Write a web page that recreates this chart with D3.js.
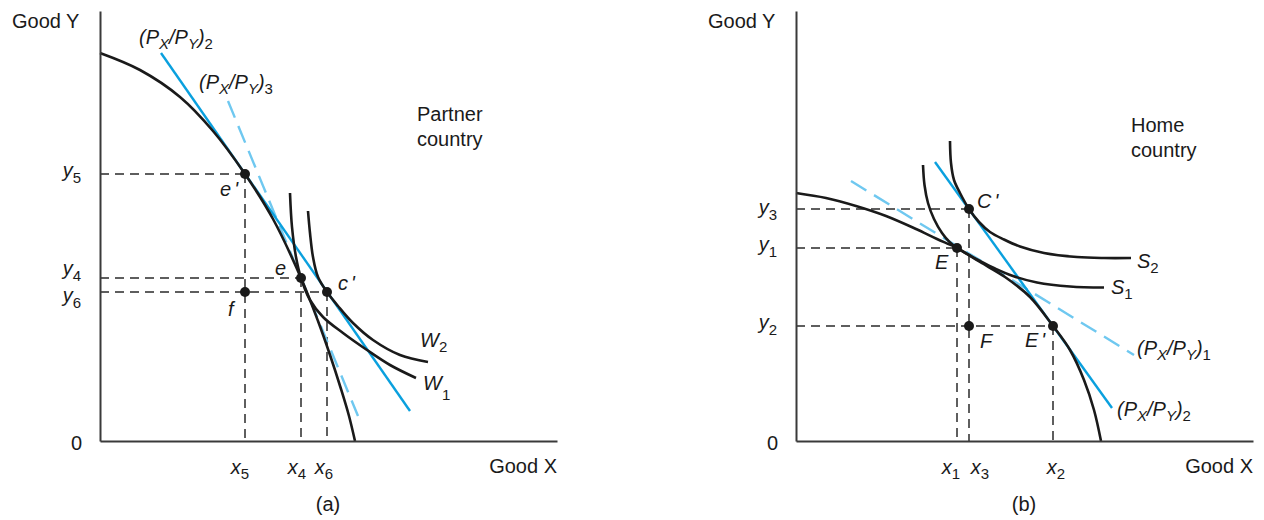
<!DOCTYPE html>
<html>
<head>
<meta charset="utf-8">
<script src="https://cdn.jsdelivr.net/npm/d3@7"></script>
<style>
  body { margin: 0; background: #fff; }
  svg text { font-family: "Liberation Sans", Arial, Helvetica, sans-serif; fill: #1a1a1a; }
</style>
</head>
<body>
<svg id="chart" width="1264" height="520"></svg>
<script>
// ---------- (a) Partner country ----------
const ppfA = [[0,38.8],[4,37.1],[8,34.4],[11.3,31.0],[14.5,26.7],[17.3,22.2],[20.1,16.3],[21.8,12.0],[23.0,8.6],[24.1,5.2],[24.9,2.5],[25.5,0]];
const w1A  = [[19.0,24.8],[19.2,21.4],[19.6,18.4],[20.1,16.3],[21.0,14.1],[22.3,12.4],[24.3,10.8],[26.7,9.1],[29.0,7.6],[31.6,6.3]];
const w2A  = [[20.8,23.0],[21.0,20.8],[21.3,18.4],[21.8,16.4],[22.7,14.9],[23.8,13.5],[25.3,11.8],[27.3,10.1],[30.0,8.6],[32.8,7.9]];
const price2A = [[6.1,38.8],[31.0,3.0]];
const price3A = [[12.8,34.0],[25.8,2.5]];
const pointsA = [
  { name: "e", prime: true,  x: 14.5, y: 26.7, guide: true },
  { name: "e", prime: false, x: 20.1, y: 16.3, guide: true },
  { name: "c", prime: true,  x: 22.7, y: 14.9, guide: true },
  { name: "f", prime: false, x: 14.5, y: 14.9, guide: false }
];
const yTicksA = [{ sub: "5", v: 26.7 }, { sub: "4", v: 16.3 }, { sub: "6", v: 14.9 }];
const xTicksA = [{ sub: "5", v: 14.5 }, { sub: "4", v: 20.1 }, { sub: "6", v: 22.7 }];

// ---------- (b) Home country ----------
const ppfB = [[0,24.8],[3.0,24.3],[6.0,23.5],[9.0,22.5],[12.0,21.2],[14.1,20.2],[16.1,19.3],[18.4,17.9],[20.9,16.4],[23.4,14.4],[25.7,11.5],[27.4,9.1],[28.8,6.1],[29.8,3.1],[30.5,0]];
const s1B  = [[12.7,27.6],[12.85,25.6],[13.2,23.8],[13.8,22.2],[14.6,20.8],[15.4,19.85],[16.1,19.3],[17.2,18.65],[18.4,18.0],[19.9,17.25],[21.7,16.5],[24.1,15.85],[27.4,15.45],[30.8,15.35]];
const s2B  = [[15.4,30.0],[15.5,27.8],[15.8,26.1],[16.4,24.8],[17.3,23.2],[18.3,21.9],[19.4,20.9],[20.8,20.15],[22.4,19.45],[24.8,18.8],[28.1,18.4],[30.8,18.3],[33.5,18.3]];
const price1B = [[5.5,26.0],[33.8,8.6]];
const price2B = [[13.9,27.9],[31.6,3.3]];
const pointsB = [
  { name: "C", prime: true,  x: 17.3, y: 23.2, guide: true },
  { name: "E", prime: false, x: 16.1, y: 19.3, guide: true },
  { name: "E", prime: true,  x: 25.7, y: 11.5, guide: true },
  { name: "F", prime: false, x: 17.3, y: 11.5, guide: false }
];
const yTicksB = [{ sub: "3", v: 23.2 }, { sub: "1", v: 19.3 }, { sub: "2", v: 11.5 }];
const xTicksB = [{ sub: "1", v: 16.1 }, { sub: "3", v: 17.3 }, { sub: "2", v: 25.7 }];

// ---------- drawing ----------
const svg = d3.select("#chart");
const BLUE = "#0aa0de", LIGHT = "#6fc8f0", INK = "#1a1a1a";

function makeScales(left) {
  return {
    x: d3.scaleLinear().domain([0, 45.7]).range([left, left + 457]),
    y: d3.scaleLinear().domain([0, 43]).range([441, 11])
  };
}

// text made of pieces: main glyphs at 20px, subscripts at 15px dropped below the baseline
function label(g, px, py, parts, anchor) {
  const t = g.append("text").attr("x", px).attr("y", py)
    .attr("text-anchor", anchor || "start").attr("font-size", 20);
  let shift = 0;
  parts.forEach(p => {
    const target = p.sub ? (p.drop ?? 6) : 0;
    const s = t.append("tspan")
      .attr("dy", target - shift)
      .attr("font-size", p.sub ? 15 : 20)
      .attr("font-style", p.it ? "italic" : "normal")
      .text(p.t);
    if (p.dx) s.attr("dx", p.dx);
    shift = target;
  });
  return t;
}
const sym = (m, s, drop) => [{ t: m, it: true }, { t: s, sub: true, drop }];
const ratio = n => [
  { t: "(P", it: true }, { t: "X", it: true, sub: true, drop: 5 },
  { t: "/P", it: true }, { t: "Y", it: true, sub: true, drop: 5 },
  { t: ")", it: true }, { t: n, sub: true, drop: 5 }
];
const pointName = p => p.prime
  ? [{ t: p.name, it: true }, { t: "'", it: true, dx: 3 }]
  : [{ t: p.name, it: true }];

function drawPanel(cfg) {
  const { x, y } = makeScales(cfg.left);
  const g = svg.append("g");
  const line = d3.line().x(d => x(d[0])).y(d => y(d[1]));
  const smooth = d3.line().x(d => x(d[0])).y(d => y(d[1])).curve(d3.curveCatmullRom.alpha(0.5));

  // dashed guides from the marked bundles to both axes
  const guides = g.append("g").attr("stroke", "#2a2a2a").attr("stroke-width", 1.5)
    .attr("stroke-dasharray", "9,6").attr("fill", "none");
  cfg.points.filter(p => p.guide).forEach(p => {
    guides.append("path").attr("d", line([[0, p.y], [p.x, p.y]]));
    guides.append("path").attr("d", line([[p.x, p.y], [p.x, 0]]));
  });

  // price lines
  g.append("path").attr("d", line(cfg.dashedPrice)).attr("fill", "none")
    .attr("stroke", LIGHT).attr("stroke-width", 2.4).attr("stroke-dasharray", "18,9");
  g.append("path").attr("d", line(cfg.solidPrice)).attr("fill", "none")
    .attr("stroke", BLUE).attr("stroke-width", 2.4);

  // production frontier and indifference curves
  [cfg.ppf, ...cfg.curves.map(c => c.data)].forEach(d => {
    g.append("path").attr("d", smooth(d)).attr("fill", "none")
      .attr("stroke", INK).attr("stroke-width", 2.6).attr("stroke-linecap", "butt");
  });

  // axes
  const ax = g.append("g").attr("transform", `translate(0,${y(0)})`)
    .call(d3.axisBottom(x).tickValues([]).tickSizeOuter(0));
  const ay = g.append("g").attr("transform", `translate(${x(0)},0)`)
    .call(d3.axisLeft(y).tickValues([]).tickSizeOuter(0));
  [ax, ay].forEach(a => a.select(".domain").attr("stroke", "#3a3a3a").attr("stroke-width", 2));

  // bundles
  g.selectAll("circle.pt").data(cfg.points).join("circle")
    .attr("cx", d => x(d.x)).attr("cy", d => y(d.y)).attr("r", 5).attr("fill", INK);
  cfg.points.forEach((p, i) => {
    const o = cfg.pointOffsets[i];
    label(g, x(p.x) + o[0], y(p.y) + o[1], pointName(p));
  });

  // axis value labels
  cfg.yTicks.forEach(t => label(g, x(0) - 19, y(t.v) + cfg.yNudge[t.sub], sym("y", t.sub, 6), "end"));
  cfg.xTicks.forEach(t => label(g, x(t.v) + cfg.xNudge[t.sub], 474, sym("x", t.sub, 5), "middle"));
  label(g, x(0) - 18, 450, [{ t: "0" }], "end");

  // axis titles
  label(g, x(0) - cfg.titleInset, 28, [{ t: "Good Y" }]);
  label(g, x(45.7), 473, [{ t: "Good X" }], "end");
  label(g, cfg.captionX, 511, [{ t: cfg.caption }], "middle");

  // country name
  cfg.country.forEach((w, i) => label(g, cfg.countryX, cfg.countryY + i * 25, [{ t: w }]));

  // curve and price-line labels
  cfg.curves.forEach(c => {
    const end = c.data[c.data.length - 1];
    label(g, x(end[0]) + c.off[0], y(end[1]) + c.off[1], sym(c.sym, c.sub, c.drop));
  });
  cfg.priceLabels.forEach(pl => {
    label(g, x(pl.at[0]) + pl.off[0], y(pl.at[1]) + pl.off[1], ratio(pl.n));
  });
}

drawPanel({
  left: 100,
  ppf: ppfA,
  curves: [
    { data: w1A, sym: "W", sub: "1", drop: 10, off: [7, 12] },
    { data: w2A, sym: "W", sub: "2", drop: 5, off: [-8, -15] }
  ],
  solidPrice: price2A,
  dashedPrice: price3A,
  points: pointsA,
  pointOffsets: [[-25, 22], [-26, -3], [11, -2], [-17, 24]],
  yTicks: yTicksA, yNudge: { "5": 3, "4": -3, "6": 10 },
  xTicks: xTicksA, xNudge: { "5": -5, "4": -4, "6": -3 },
  titleInset: 88,
  caption: "(a)", captionX: 328,
  country: ["Partner", "country"], countryX: 417, countryY: 121,
  priceLabels: [
    { n: "2", at: price2A[0], off: [-22, -9] },
    { n: "3", at: price3A[0], off: [-29, -12] }
  ]
});

drawPanel({
  left: 796,
  ppf: ppfB,
  curves: [
    { data: s1B, sym: "S", sub: "1", drop: 5, off: [7, 6] },
    { data: s2B, sym: "S", sub: "2", drop: 5, off: [6, 10] }
  ],
  solidPrice: price2B,
  dashedPrice: price1B,
  points: pointsB,
  pointOffsets: [[8, -1], [-22, 21], [-28, 21], [11, 22]],
  yTicks: yTicksB, yNudge: { "3": 5, "1": 3, "2": 3 },
  xTicks: xTicksB, xNudge: { "1": -6, "3": 11, "2": 3 },
  titleInset: 88,
  caption: "(b)", captionX: 1024,
  country: ["Home", "country"], countryX: 1131, countryY: 132,
  priceLabels: [
    { n: "1", at: price1B[1], off: [3, 0] },
    { n: "2", at: price2B[1], off: [5, 8] }
  ]
});
</script>
</body>
</html>
